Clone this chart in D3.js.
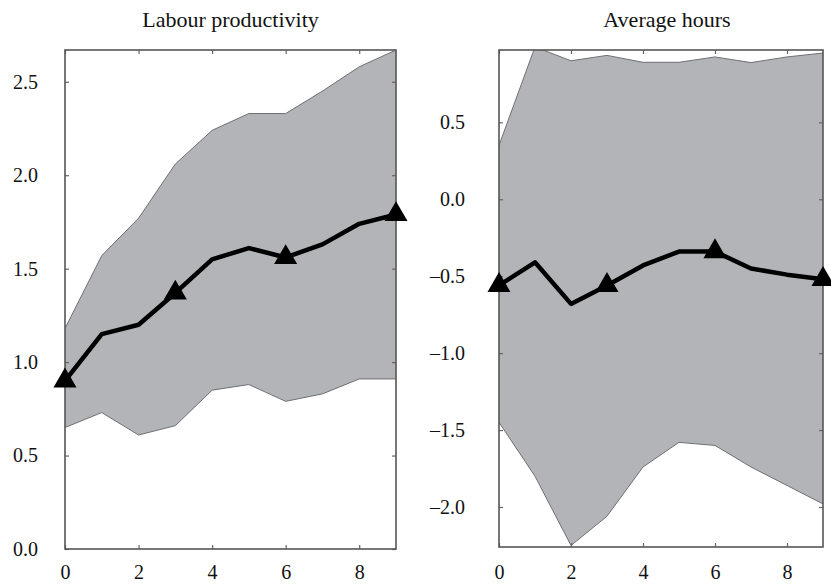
<!DOCTYPE html>
<html>
<head>
<meta charset="utf-8">
<script src="https://cdn.jsdelivr.net/npm/d3@7/dist/d3.min.js"></script>
<style>
  body { margin: 0; background: #fff; }
  svg { display: block; }
</style>
</head>
<body>
<svg id="chart" width="831" height="584"></svg>
<script>
// Horizon (quarters after the shock)
const horizon = [0, 1, 2, 3, 4, 5, 6, 7, 8, 9];
const markerSteps = [0, 3, 6, 9];

// Labour productivity response: median and error band
const prodMedian = [0.90, 1.15, 1.20, 1.37, 1.55, 1.61, 1.56, 1.63, 1.74, 1.79];
const prodUpper  = [1.18, 1.57, 1.77, 2.06, 2.24, 2.33, 2.33, 2.45, 2.58, 2.67];
const prodLower  = [0.65, 0.73, 0.61, 0.66, 0.85, 0.88, 0.79, 0.83, 0.91, 0.91];
const prodTicks  = [0.0, 0.5, 1.0, 1.5, 2.0, 2.5];

// Average hours response: median and error band
const hoursMedian = [-0.56, -0.41, -0.68, -0.56, -0.43, -0.34, -0.34, -0.45, -0.49, -0.52];
const hoursUpper  = [0.35, 0.99, 0.90, 0.935, 0.89, 0.89, 0.925, 0.888, 0.925, 0.95];
const hoursLower  = [-1.45, -1.80, -2.25, -2.06, -1.74, -1.58, -1.60, -1.74, -1.86, -1.98];
const hoursTicks  = [-2.0, -1.5, -1.0, -0.5, 0.0, 0.5];

const xTicks = [0, 2, 4, 6, 8];

const FONT = "'Liberation Serif'";
const svg = d3.select("#chart");

const panels = [
  { title: "Labour productivity", median: prodMedian, upper: prodUpper, lower: prodLower,
    yTicks: prodTicks, yDomain: [0, 2.67],
    left: 65, right: 396, top: 50, bottom: 549, labelPad: 27, xPad: 16 },
  { title: "Average hours", median: hoursMedian, upper: hoursUpper, lower: hoursLower,
    yTicks: hoursTicks, yDomain: [-2.26, 0.97],
    left: 499, right: 823, top: 50, bottom: 547, labelPad: 34, xPad: 18 }
];

const fmt = v => (v < 0 ? "\u2013" : "") + d3.format(".1f")(Math.abs(v));

panels.forEach((p, i) => {
  const x = d3.scaleLinear().domain([0, 9]).range([p.left, p.right]);
  const y = d3.scaleLinear().domain(p.yDomain).range([p.bottom, p.top]);
  const g = svg.append("g");

  const clipId = "clip" + i;
  svg.append("defs").append("clipPath").attr("id", clipId)
    .append("rect")
    .attr("x", p.left).attr("y", p.top)
    .attr("width", p.right - p.left).attr("height", p.bottom - p.top);

  const rows = horizon.map((h, k) => ({ h, lo: p.lower[k], hi: p.upper[k], m: p.median[k] }));

  // error band
  const area = d3.area().x(d => x(d.h)).y0(d => y(d.lo)).y1(d => y(d.hi));
  const band = g.append("g").attr("clip-path", `url(#${clipId})`);
  band.append("path").datum(rows).attr("d", area)
    .attr("fill", "#b3b4b8").attr("stroke", "none");
  band.append("path").datum(rows)
    .attr("d", d3.line().x(d => x(d.h)).y(d => y(d.hi)))
    .attr("fill", "none").attr("stroke", "#6f7074").attr("stroke-width", 1);
  band.append("path").datum(rows)
    .attr("d", d3.line().x(d => x(d.h)).y(d => y(d.lo)))
    .attr("fill", "none").attr("stroke", "#6f7074").attr("stroke-width", 1);

  // axes with inward ticks on all four sides
  const axStyle = sel => {
    sel.attr("font-family", null).attr("font-size", null);
    sel.select(".domain").remove();
    sel.selectAll(".tick line").attr("stroke", "#666").attr("stroke-width", 1.2);
    sel.selectAll(".tick text")
      .style("font-family", FONT).style("font-size", "20px").attr("fill", "#111");
  };
  g.append("g").attr("transform", `translate(0,${p.bottom})`)
    .call(d3.axisBottom(x).tickValues(xTicks).tickSize(-4).tickPadding(p.xPad).tickFormat(d3.format("d")))
    .call(axStyle);
  g.append("g").attr("transform", `translate(0,${p.top})`)
    .call(d3.axisTop(x).tickValues(xTicks).tickSize(-4).tickFormat(""))
    .call(axStyle);
  g.append("g").attr("transform", `translate(${p.left},0)`)
    .call(d3.axisLeft(y).tickValues(p.yTicks).tickSize(-4).tickPadding(p.labelPad).tickFormat(fmt))
    .call(axStyle);
  g.append("g").attr("transform", `translate(${p.right},0)`)
    .call(d3.axisRight(y).tickValues(p.yTicks).tickSize(-4).tickFormat(""))
    .call(axStyle);

  // frame
  g.append("rect")
    .attr("x", p.left).attr("y", p.top)
    .attr("width", p.right - p.left).attr("height", p.bottom - p.top)
    .attr("fill", "none").attr("stroke", "#555").attr("stroke-width", 1.6);

  // median response
  g.append("path").datum(rows)
    .attr("d", d3.line().x(d => x(d.h)).y(d => y(d.m)))
    .attr("fill", "none").attr("stroke", "#000").attr("stroke-width", 4.5)
    .attr("stroke-linejoin", "round");

  g.selectAll("path.mk").data(rows.filter(d => markerSteps.includes(d.h)))
    .enter().append("path").attr("class", "mk")
    .attr("d", d3.symbol().type(d3.symbolTriangle).size(230))
    .attr("transform", d => `translate(${x(d.h)},${y(d.m)})`)
    .attr("fill", "#000");

  // title
  g.append("text")
    .attr("x", (p.left + p.right) / 2 + (i === 1 ? 6 : 0)).attr("y", 27)
    .attr("text-anchor", "middle")
    .style("font-family", FONT).style("font-size", "22px").attr("fill", "#111")
    .text(p.title);
});
</script>
</body>
</html>
